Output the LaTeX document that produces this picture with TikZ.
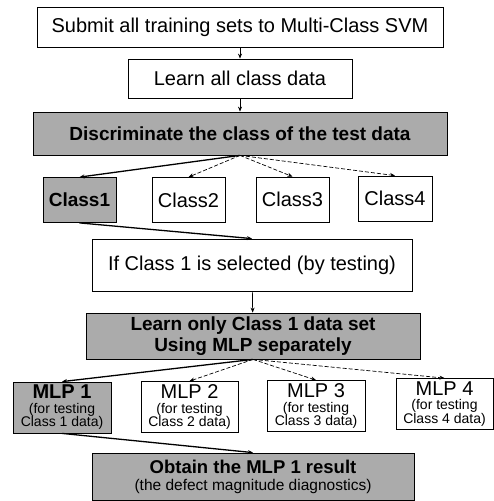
\documentclass[tikz,border=0pt]{standalone}
\usepackage{fontspec}
\setmainfont{Liberation Sans}
\usetikzlibrary{arrows.meta}
\newcommand\boxfont{\fontsize{20}{23}\selectfont}
\newcommand\grayfont{\fontsize{19}{21}\selectfont\bfseries}
\newcommand\notefont{\fontsize{14}{13.5}\selectfont\mdseries}
\newcommand\headfont{\fontsize{20}{20}\selectfont}
\begin{document}
\begin{tikzpicture}[x=1pt, y=-1pt,
  whitebox/.style={draw, line width=0.8pt, fill=white, inner sep=0pt, align=center, font=\boxfont},
  graybox/.style={whitebox, fill=black!33, font=\grayfont},
  mlpbox/.style={whitebox, minimum width=98, minimum height=51, font=\notefont},
  arr/.style={-{Stealth[length=5pt,width=4pt]}, line width=0.7pt},
  chosen/.style={arr, line width=1.3pt},
  other/.style={arr, dash pattern=on 4pt off 2pt}]
  \useasboundingbox (0,0) rectangle (494,501);

  % Define nodes
  \node[whitebox, minimum width=406, minimum height=40] (submit) at (240,27) {Submit all training sets to Multi-Class SVM};
  \node[whitebox, minimum width=224, minimum height=39] (learn) at (240,78.5) {Learn all class data};
  \node[graybox, minimum width=414, minimum height=43] (discr) at (240,133.5) {Discriminate the class of the test data};

  \node[graybox, minimum width=73, minimum height=45] (c1) at (79.5,200) {Class1};
  \node[whitebox, minimum width=73, minimum height=45] (c2) at (188.5,200) {Class2};
  \node[whitebox, minimum width=73, minimum height=45] (c3) at (292.5,199.5) {Class3};
  \node[whitebox, minimum width=74, minimum height=45] (c4) at (395,198.5) {Class4};

  \node[whitebox, minimum width=320, minimum height=52] (select) at (252,265) {If Class 1 is selected (by testing)};
  \node[graybox, minimum width=334, minimum height=46] (onlyc1) at (253,336) {Learn only Class 1 data set\\Using MLP separately};

  \node[mlpbox, fill=black!33] (m1) at (62,407.5) {{\headfont\bfseries MLP 1}\\[1pt](for testing\\Class 1 data)};
  \node[mlpbox, minimum width=97] (m2) at (189.5,407) {{\headfont MLP 2}\\[1pt](for testing\\Class 2 data)};
  \node[mlpbox] (m3) at (316,406) {{\headfont MLP 3}\\[1pt](for testing\\Class 3 data)};
  \node[mlpbox, minimum width=97] (m4) at (444.5,404) {{\headfont MLP 4}\\[1pt](for testing\\Class 4 data)};

  \node[graybox, minimum width=322, minimum height=47, font=\fontsize{15.5}{15}\selectfont\mdseries] (result) at (253,476.5) {{\fontsize{18.5}{18.5}\selectfont\bfseries Obtain the MLP 1 result}\\[2pt](the defect magnitude diagnostics)};

  % Draw edges
  \draw[arr] (submit) -- (learn);
  \draw[arr] (learn) -- (discr);
  \draw[chosen] (discr.south) -- (c1.north);
  \draw[other] (discr.south) -- (c2.north);
  \draw[other] (discr.south) -- (c3.north);
  \draw[other] (discr.south) -- (c4.north);
  \draw[chosen] (c1.south) -- (select.north);
  \draw[arr] (select) -- (onlyc1);
  \draw[chosen] (onlyc1.south) -- (m1.north);
  \draw[other] (onlyc1.south) -- (m2.north);
  \draw[other] (onlyc1.south) -- (m3.north);
  \draw[other] (onlyc1.south) -- (m4.north);
  \draw[chosen] (m1.south) -- (result.north);
\end{tikzpicture}
\end{document}
